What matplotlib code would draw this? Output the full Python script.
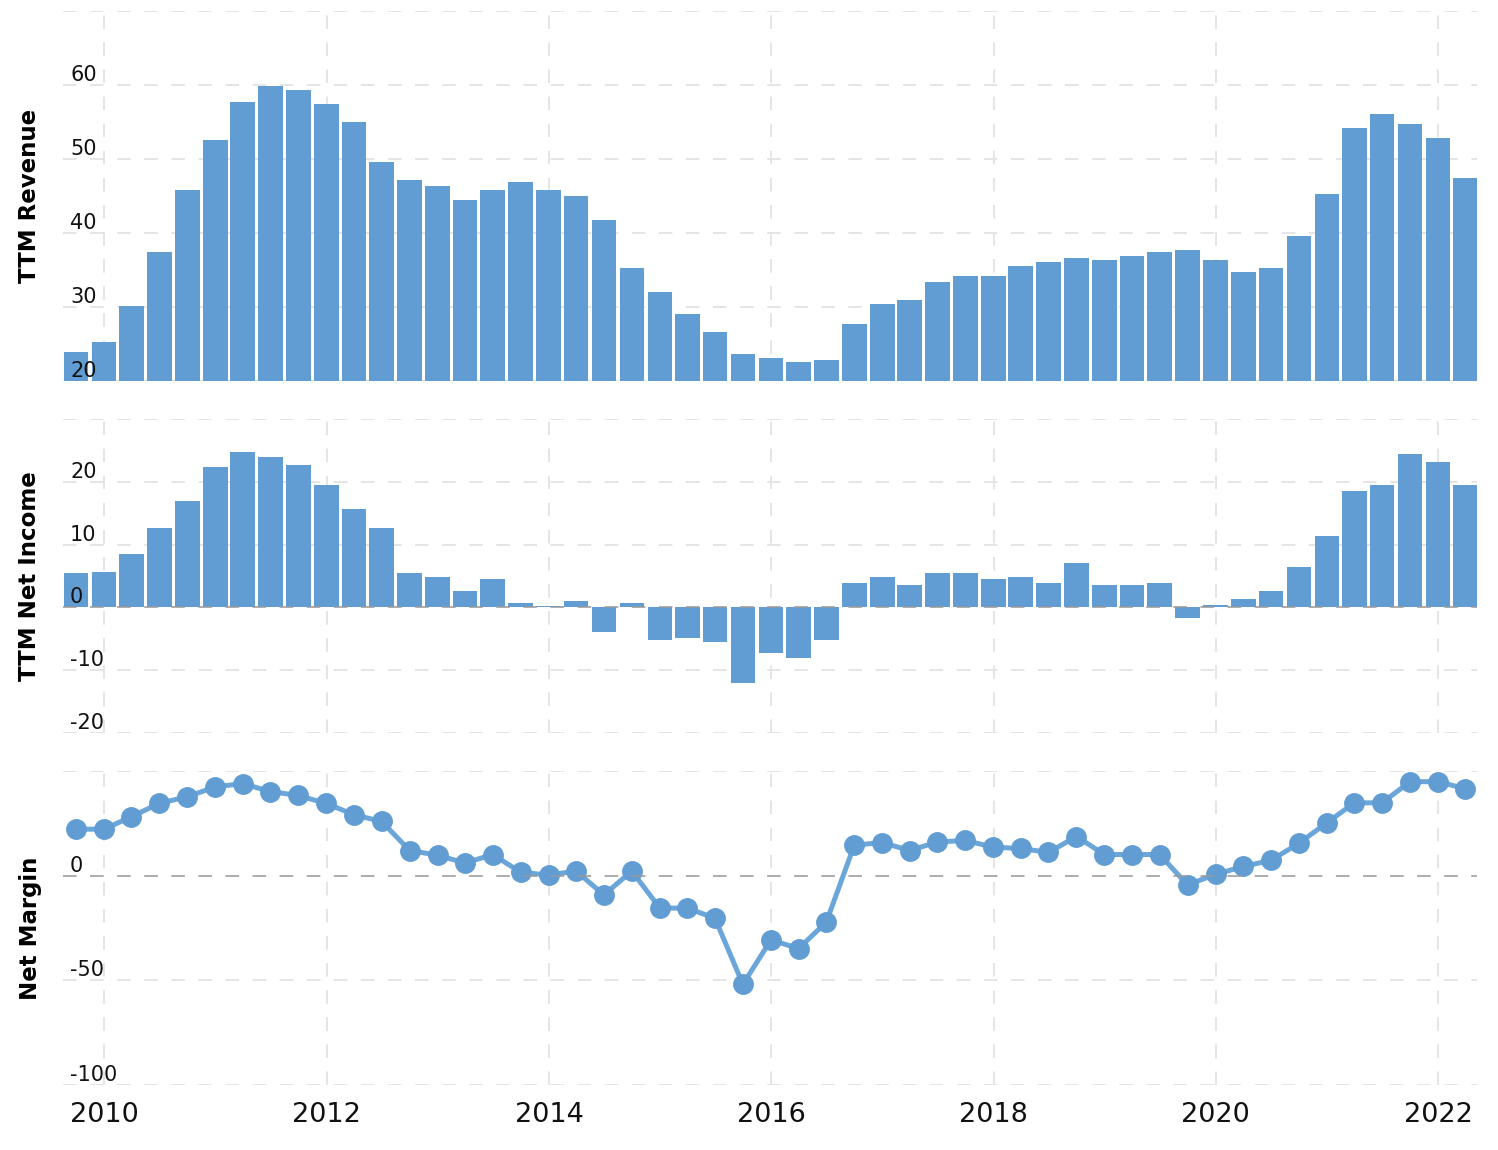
import matplotlib
matplotlib.use("Agg")
import matplotlib.pyplot as plt
import matplotlib.transforms as mtransforms
import pandas as pd

# ---------------- data ----------------
dates = pd.date_range("2009-09-30", "2022-03-31", freq="QE")

revenue = [23.9, 25.3, 30.1, 37.4, 45.8, 52.6, 57.7, 59.9, 59.3, 57.4,
           55.0, 49.6, 47.2, 46.4, 44.5, 45.8, 46.9, 45.8, 45.0, 41.8,
           35.3, 32.0, 29.1, 26.6, 23.6, 23.1, 22.6, 22.8, 27.7, 30.4,
           30.9, 33.4, 34.2, 34.2, 35.5, 36.1, 36.6, 36.4, 36.9, 37.4,
           37.7, 36.4, 34.7, 35.3, 39.6, 45.3, 54.2, 56.1, 54.7, 52.8,
           47.4]

net_income = [5.4, 5.7, 8.5, 12.6, 17.0, 22.3, 24.8, 23.9, 22.6, 19.5,
              15.7, 12.6, 5.4, 4.8, 2.6, 4.5, 0.7, 0.2, 1.0, -3.9,
              0.7, -5.2, -4.8, -5.5, -12.0, -7.3, -8.0, -5.2, 3.9, 4.8,
              3.5, 5.4, 5.4, 4.5, 4.8, 3.9, 7.0, 3.5, 3.5, 3.9,
              -1.7, 0.4, 1.4, 2.6, 6.4, 11.4, 18.5, 19.5, 24.5, 23.2,
              19.5]

net_margin = [22.2, 22.2, 28.2, 34.5, 37.7, 42.4, 44.0, 40.2, 38.3, 34.5,
              29.1, 25.9, 12.0, 9.8, 6.0, 10.1, 1.6, 0.3, 2.2, -9.2,
              2.2, -15.5, -15.5, -20.3, -51.9, -30.7, -34.8, -22.2, 14.6, 15.8,
              12.0, 16.1, 16.8, 13.6, 13.0, 11.1, 18.7, 10.1, 10.1, 10.1,
              -4.4, 0.6, 4.4, 7.3, 15.5, 25.3, 34.8, 34.8, 44.9, 44.9,
              41.5]

year_ticks = [2010, 2012, 2014, 2016, 2018, 2020, 2022]

rev_grid = [20, 30, 40, 50, 60, 70]
rev_labels = [20, 30, 40, 50, 60]
ni_grid = [-20, -10, 0, 10, 20, 30]
ni_labels = [-20, -10, 0, 10, 20]
nm_grid = [-100, -50, 0, 50]
nm_labels = [-100, -50, 0]

panel_titles = ["TTM Revenue", "TTM Net Income", "Net Margin"]

# ---------------- style ----------------
BLUE = "#619dd3"
LINE_BLUE = "#6aa6da"
GRID = "#e3e3e3"
ZERO = "#9a9a9a"
DASH = (0, (7.5, 7.5))

W, H = 1498, 1150
fig = plt.figure(figsize=(W / 100, H / 100), dpi=100)

L, R = 63, 1477
panels_px = [(11, 381), (419, 733), (771, 1085)]
axes = []
for (top, bot) in panels_px:
    ax = fig.add_axes([L / W, 1 - bot / H, (R - L) / W, (bot - top) / H])
    axes.append(ax)

xmin = dates[0] - pd.Timedelta(days=43)
xmax = dates[-1] + pd.Timedelta(days=38)
xt = [pd.Timestamp(f"{y}-01-01") for y in year_ticks]


def style(ax, grid_vals, label_vals, ylim, zero=False):
    ax.set_xlim(xmin, xmax)
    ax.set_ylim(*ylim)
    ax.set_yticks(grid_vals)
    ax.set_xticks(xt)
    ax.set_axisbelow(True)
    ax.grid(True, color=GRID, linestyle=DASH, linewidth=1.3)
    ax.tick_params(length=0, labelleft=False)
    for s in ax.spines.values():
        s.set_visible(False)
    trans = mtransforms.blended_transform_factory(ax.transAxes, ax.transData)
    for v in label_vals:
        ax.text(0.005, v, f"{v}", transform=trans, ha="left", va="bottom",
                fontsize=15, color="#111111", zorder=6)
    if zero:
        ax.axhline(0, color=ZERO, linestyle=DASH, linewidth=1.3, alpha=0.8, zorder=4)


ax1, ax2, ax3 = axes
ax1.bar(dates, revenue, width=81, color=BLUE, zorder=2)
style(ax1, rev_grid, rev_labels, (20, 70))

ax2.bar(dates, net_income, width=81, color=BLUE, zorder=2)
style(ax2, ni_grid, ni_labels, (-20, 30), zero=True)

ax3.plot(dates, net_margin, color=LINE_BLUE, linewidth=3.6, marker="o",
         markersize=14, markerfacecolor=BLUE, markeredgecolor=BLUE, zorder=3)
style(ax3, nm_grid, nm_labels, (-100, 50), zero=True)

for ax in (ax1, ax2):
    ax.tick_params(labelbottom=False)
ax3.set_xticklabels([str(y) for y in year_ticks], fontsize=19.5, color="#111111")
ax3.tick_params(axis="x", pad=12)

for title, (top, bot) in zip(panel_titles, panels_px):
    fig.text(30 / W, 1 - (top + bot) / 2 / H, title, rotation=90, ha="center",
             va="center", fontsize=16.5, fontweight="bold", color="#000000")

fig.savefig("out.png", dpi=100)
